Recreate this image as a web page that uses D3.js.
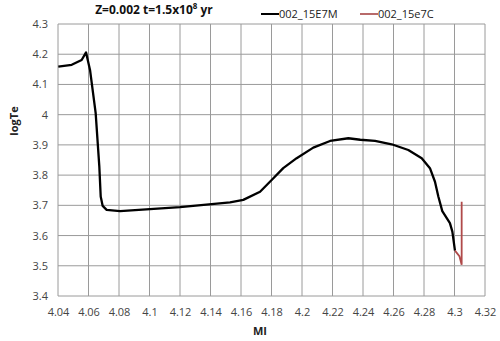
<!DOCTYPE html>
<html>
<head>
<meta charset="utf-8">
<script src="https://cdn.jsdelivr.net/npm/d3@7"></script>
<style>
  body { margin: 0; background: #fff; }
  text { font-family: "Open Sans", "Liberation Sans", sans-serif; }
</style>
</head>
<body>
<script>
// data: MI vs logTe
var mainMI = [4.0402, 4.049, 4.0555, 4.0584, 4.061, 4.0647, 4.0671, 4.068, 4.0693, 4.0719, 4.0807, 4.12, 4.1528, 4.1615, 4.1725, 4.1801, 4.1877, 4.1965, 4.2074, 4.2184, 4.2304, 4.2382, 4.2479, 4.2588, 4.2697, 4.2785, 4.2839, 4.2872, 4.2894, 4.292, 4.297, 4.2986, 4.3003];
var mainTe = [4.159, 4.165, 4.181, 4.206, 4.148, 4.005, 3.828, 3.729, 3.698, 3.685, 3.681, 3.694, 3.710, 3.718, 3.745, 3.784, 3.823, 3.856, 3.891, 3.913, 3.922, 3.917, 3.913, 3.902, 3.883, 3.856, 3.823, 3.778, 3.729, 3.681, 3.641, 3.613, 3.55];
var redMI = [4.3003, 4.3032, 4.3047, 4.3047];
var redTe = [3.55, 3.532, 3.503, 3.712];
var xTicks = [4.04, 4.06, 4.08, 4.1, 4.12, 4.14, 4.16, 4.18, 4.2, 4.22, 4.24, 4.26, 4.28, 4.3, 4.32];
var yTicks = [3.4, 3.5, 3.6, 3.7, 3.8, 3.9, 4, 4.1, 4.2, 4.3];
var seriesNames = ["002_15E7M", "002_15e7C"];

var width = 500, height = 341;
var plotLeft = 58, plotRight = 485, plotTop = 24, plotBottom = 296;

var svg = d3.select("body").append("svg")
    .attr("width", width)
    .attr("height", height);

var x = d3.scaleLinear().domain([4.04, 4.32]).range([plotLeft, plotRight]);
var y = d3.scaleLinear().domain([3.4, 4.3]).range([plotBottom, plotTop]);

//grid lines
svg.selectAll(".vgrid")
    .data(xTicks)
    .enter()
    .append("line")
    .attr("x1", function(d){ return x(d); })
    .attr("x2", function(d){ return x(d); })
    .attr("y1", plotTop)
    .attr("y2", plotBottom)
    .attr("stroke", "#9a9a9a")
    .attr("stroke-width", 1);

svg.selectAll(".hgrid")
    .data(yTicks)
    .enter()
    .append("line")
    .attr("x1", plotLeft)
    .attr("x2", plotRight)
    .attr("y1", function(d){ return y(d); })
    .attr("y2", function(d){ return y(d); })
    .attr("stroke", "#9a9a9a")
    .attr("stroke-width", 1);

//axes (labels only, lines come from grid)
svg.append("g")
    .attr("transform", "translate(0," + plotBottom + ")")
    .call(d3.axisBottom(x).tickValues(xTicks).tickSize(0).tickPadding(12)
        .tickFormat(function(d){ return String(+d.toFixed(2)); }));
svg.append("g")
    .attr("transform", "translate(" + plotLeft + ",0)")
    .call(d3.axisLeft(y).tickValues(yTicks).tickSize(0).tickPadding(10)
        .tickFormat(function(d){ return String(+d.toFixed(1)); }));
svg.selectAll(".domain").remove();
svg.selectAll(".tick text")
    .attr("font-family", "Open Sans, Liberation Sans, sans-serif")
    .attr("font-size", 11)
    .attr("fill", "#444");

//series lines
var line = d3.line()
    .x(function(d){ return x(d[0]); })
    .y(function(d){ return y(d[1]); });

svg.append("path")
    .datum(d3.zip(mainMI, mainTe))
    .attr("fill", "none")
    .attr("stroke", "#000")
    .attr("stroke-width", 2.3)
    .attr("stroke-linejoin", "round")
    .attr("d", line);

svg.append("path")
    .datum(d3.zip(redMI, redTe))
    .attr("fill", "none")
    .attr("stroke", "#b04a4a")
    .attr("stroke-width", 1.8)
    .attr("d", line);

//title
var title = svg.append("text")
    .attr("x", 154)
    .attr("y", 14)
    .attr("text-anchor", "middle")
    .attr("font-size", 12)
    .attr("font-weight", "bold")
    .attr("fill", "#111");
title.append("tspan").text("Z=0.002 t=1.5x10");
title.append("tspan").attr("font-size", 8).attr("dy", -5).text("8");
title.append("tspan").attr("dy", 5).text(" yr");

//legend
var legendX = [261, 360];
var legendColors = ["#000", "#b86a6a"];
seriesNames.forEach(function(name, i){
    svg.append("line")
        .attr("x1", legendX[i]).attr("x2", legendX[i] + 18)
        .attr("y1", 14).attr("y2", 14)
        .attr("stroke", legendColors[i])
        .attr("stroke-width", 2);
    svg.append("text")
        .attr("x", legendX[i] + 18)
        .attr("y", 18)
        .attr("font-size", 11)
        .attr("fill", "#222")
        .text(name);
});

//axis titles
svg.append("text")
    .attr("transform", "translate(18,121) rotate(-90)")
    .attr("text-anchor", "middle")
    .attr("font-size", 11)
    .attr("font-weight", "bold")
    .attr("fill", "#222")
    .text("logTe");

svg.append("text")
    .attr("x", 260)
    .attr("y", 335)
    .attr("text-anchor", "middle")
    .attr("font-size", 11)
    .attr("font-weight", "bold")
    .attr("fill", "#222")
    .text("MI");
</script>
</body>
</html>
